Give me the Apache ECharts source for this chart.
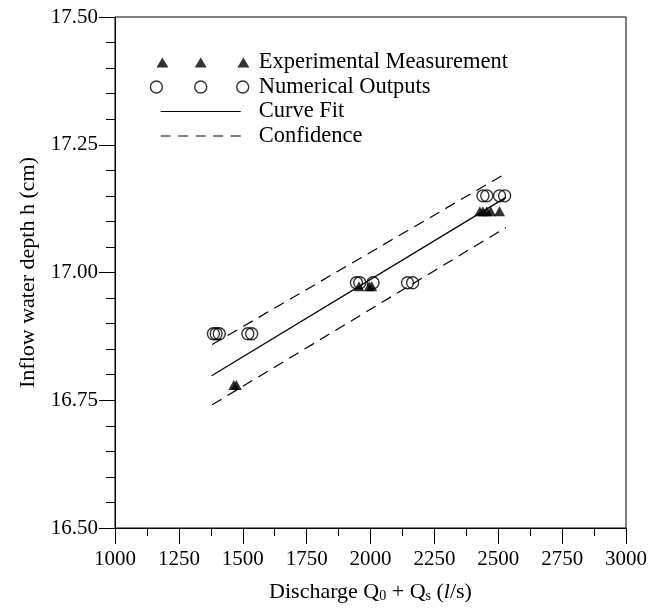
<!DOCTYPE html>
<html>
<head>
<meta charset="utf-8">
<script src="https://cdn.jsdelivr.net/npm/echarts@6/dist/echarts.min.js"></script>
<style>html,body{margin:0;padding:0;background:#fff}#c{width:650px;height:610px}</style>
</head>
<body>
<div id="c"></div>
<script>
// ---- data ----
const expQ = [1465, 1475, 1955, 1995, 2005, 2428, 2440, 2455, 2470, 2505];
const expH = [16.78, 16.78, 16.973, 16.973, 16.973, 17.12, 17.12, 17.12, 17.12, 17.12];
const numQ = [1385, 1396, 1408, 1520, 1535, 1945, 1958, 2010, 2145, 2165, 2440, 2455, 2505, 2525];
const numH = [16.88, 16.88, 16.88, 16.88, 16.88, 16.98, 16.98, 16.98, 16.98, 16.98, 17.15, 17.15, 17.15, 17.15];
const fitQ = [1378, 2530];
const fitH = [16.798, 17.147];
const confQ = [1380, 2530];
const upperH = [16.859, 17.194];
const lowerH = [16.741, 17.088];
const xMin = 1000, xMax = 3000, xStep = 250;
const yMin = 16.5, yMax = 17.5, yStep = 0.25;
const seriesNames = ['Experimental Measurement', 'Numerical Outputs', 'Curve Fit', 'Confidence'];

const zip = (a, b) => a.map((v, i) => [v, b[i]]);
const FONT = 'Liberation Serif';

// legend icons (box 105 x 14, anchored corners)
const A = 'M0 0M105 14';
const tri = (cx) => 'M' + (cx - 6) + ' 12L' + cx + ' 2L' + (cx + 6) + ' 12Z';
const triIcon = 'path://' + A + tri(13.7) + tri(52) + tri(94.7);
const circ = (cx) => 'M' + (cx - 6) + ' 7a6 6 0 1 0 12 0a6 6 0 1 0 -12 0Z';
const cirIcon = 'path://' + A + circ(7.7) + circ(52) + circ(94);
const lineIcon = 'path://' + A + 'M12 6.4L92 6.4L92 7.6L12 7.6Z';
const dash = (x) => 'M' + x + ' 6.4L' + (x + 10) + ' 6.4L' + (x + 10) + ' 7.6L' + x + ' 7.6Z';
const dashIcon = 'path://' + A + [12, 29.5, 47, 64.5, 82].map(dash).join('');

const chart = echarts.init(document.getElementById('c'), null, {renderer: 'canvas'});
chart.setOption({
  animation: false,
  backgroundColor: '#fff',
  textStyle: {fontFamily: FONT, color: '#000'},
  grid: {left: 115, right: 19, top: 17, bottom: 82, show: true, borderColor: '#000', borderWidth: 1},
  legend: {
    left: 148, top: 51, orient: 'vertical', padding: 0,
    itemWidth: 105, itemHeight: 14, itemGap: 1.5, selectedMode: false,
    textStyle: {fontFamily: FONT, fontSize: 22.5, color: '#000'},
    data: [
      {name: seriesNames[0], icon: triIcon, itemStyle: {color: '#000', borderWidth: 0}},
      {name: seriesNames[1], icon: cirIcon, itemStyle: {color: 'rgba(0,0,0,0)', borderColor: '#000', borderWidth: 1.4}},
      {name: seriesNames[2], icon: lineIcon, itemStyle: {color: '#000', borderWidth: 0}},
      {name: seriesNames[3], icon: dashIcon, itemStyle: {color: '#000', borderWidth: 0}}
    ]
  },
  xAxis: {
    type: 'value', min: xMin, max: xMax, interval: xStep,
    name: 'Discharge Q{sub|0} + Q{sub|s} ({it|l}/s)',
    nameLocation: 'middle', nameGap: 53,
    nameTextStyle: {
      fontFamily: FONT, fontSize: 22, color: '#000',
      rich: {
        sub: {fontFamily: FONT, fontSize: 14, color: '#000', verticalAlign: 'bottom', padding: [6, 0, 0, 0]},
        it: {fontFamily: FONT, fontSize: 22, color: '#000', fontStyle: 'italic'}
      }
    },
    axisLine: {show: true, lineStyle: {color: '#000', width: 1}},
    axisTick: {show: true, inside: false, length: 16, lineStyle: {color: '#000', width: 1}},
    minorTick: {show: true, splitNumber: 2, length: 8, lineStyle: {color: '#000', width: 1}},
    axisLabel: {fontFamily: FONT, fontSize: 21, color: '#000', margin: 21, formatter: v => String(v)},
    splitLine: {show: false}, minorSplitLine: {show: false}
  },
  yAxis: {
    type: 'value', min: yMin, max: yMax, interval: yStep,
    name: 'Inflow water depth h (cm)',
    nameLocation: 'middle', nameGap: 76, nameRotate: 90,
    nameTextStyle: {fontFamily: FONT, fontSize: 22, color: '#000'},
    axisLine: {show: true, lineStyle: {color: '#000', width: 1}},
    axisTick: {show: true, inside: false, length: 16, lineStyle: {color: '#000', width: 1}},
    minorTick: {show: true, splitNumber: 5, length: 9, lineStyle: {color: '#000', width: 1}},
    axisLabel: {fontFamily: FONT, fontSize: 21, color: '#000', margin: 17, formatter: v => v.toFixed(2)},
    splitLine: {show: false}, minorSplitLine: {show: false}
  },
  series: [
    {
      name: seriesNames[3], type: 'line', data: zip(confQ, upperH), symbol: 'none', z: 2,
      lineStyle: {color: '#000', width: 1.2, type: [11, 7]}, itemStyle: {color: '#000'}
    },
    {
      name: seriesNames[3], type: 'line', data: zip(confQ, lowerH), symbol: 'none', z: 2,
      lineStyle: {color: '#000', width: 1.2, type: [11, 7]}, itemStyle: {color: '#000'}
    },
    {
      name: seriesNames[2], type: 'line', data: zip(fitQ, fitH), symbol: 'none', z: 2,
      lineStyle: {color: '#000', width: 1.3}, itemStyle: {color: '#000'}
    },
    {
      name: seriesNames[1], type: 'scatter', data: zip(numQ, numH), symbol: 'circle', symbolSize: 12, z: 3,
      itemStyle: {color: 'rgba(0,0,0,0)', borderColor: '#000', borderWidth: 1.4}
    },
    {
      name: seriesNames[0], type: 'scatter', data: zip(expQ, expH), symbol: 'triangle', symbolSize: [11, 10], z: 4,
      itemStyle: {color: '#000'}
    }
  ]
});
</script>
</body>
</html>
